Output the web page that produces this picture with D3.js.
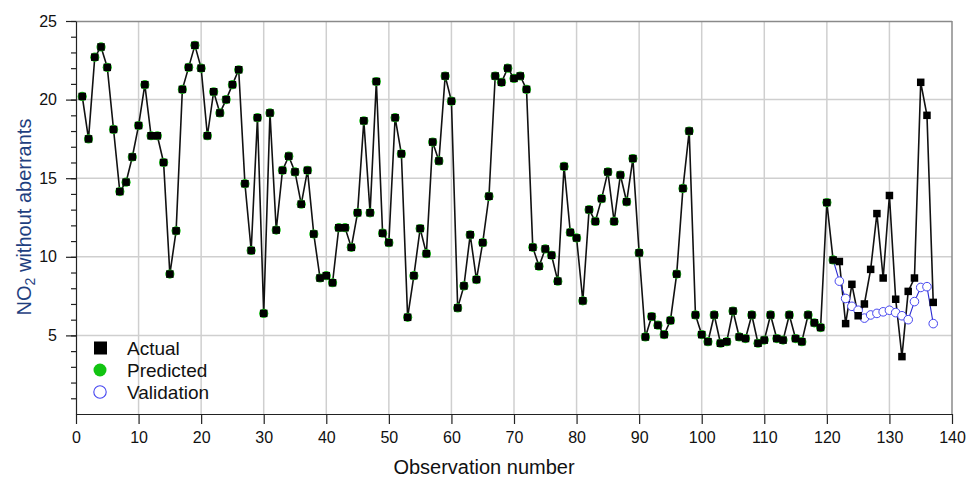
<!DOCTYPE html>
<html>
<head>
<meta charset="utf-8">
<script src="https://cdn.jsdelivr.net/npm/d3@7"></script>
<style>
  html, body { margin: 0; padding: 0; background: #fff; }
  svg { display: block; font-family: "Liberation Sans", Arial, sans-serif; }
</style>
</head>
<body>
<svg id="chart" width="977" height="481"></svg>
<script>
// ---- data ----
const actual = [
  20.2, 17.5, 22.7, 23.35, 22.05, 18.1, 14.15, 14.75, 16.35, 18.35,
  20.95, 17.7, 17.7, 16.0, 8.9, 11.65, 20.65, 22.05, 23.45, 22.0,
  17.7, 20.5, 19.15, 20.0, 20.95, 21.9, 14.65, 10.4, 18.85, 6.4,
  19.15, 11.7, 15.5, 16.4, 15.4, 13.35, 15.5, 11.45, 8.65, 8.8,
  8.35, 11.85, 11.85, 10.6, 12.8, 18.65, 12.8, 21.15, 11.5, 10.9,
  18.85, 16.55, 6.15, 8.8, 11.8, 10.2, 17.3, 16.1, 21.5, 19.9,
  6.75, 8.15, 11.4, 8.55, 10.9, 13.85, 21.5, 21.1, 22.0, 21.35,
  21.5, 20.65, 10.6, 9.4, 10.5, 10.1, 8.45, 15.75, 11.55, 11.2,
  7.2, 13.0, 12.25, 13.7, 15.4, 12.25, 15.2, 13.5, 16.25, 10.25,
  4.9, 6.2, 5.65, 5.05, 5.95, 8.9, 14.35, 18.0, 6.3, 5.05,
  4.6, 6.3, 4.5, 4.6, 6.55, 4.9, 4.8, 6.3, 4.5, 4.7,
  6.3, 4.8, 4.7, 6.3, 4.8, 4.6, 6.3, 5.8, 5.5, 13.45,
  9.8, 9.7, 5.75, 8.25, 6.25, 7.0, 9.2, 12.75, 8.65, 13.9,
  7.3, 3.65, 7.8, 8.65, 21.1, 19.0, 7.1
];
const predicted = [
  20.2, 17.5, 22.7, 23.35, 22.05, 18.1, 14.15, 14.75, 16.35, 18.35,
  20.95, 17.7, 17.7, 16.0, 8.9, 11.65, 20.65, 22.05, 23.45, 22.0,
  17.7, 20.5, 19.15, 20.0, 20.95, 21.9, 14.65, 10.4, 18.85, 6.4,
  19.15, 11.7, 15.5, 16.4, 15.4, 13.35, 15.5, 11.45, 8.65, 8.8,
  8.35, 11.85, 11.85, 10.6, 12.8, 18.65, 12.8, 21.15, 11.5, 10.9,
  18.85, 16.55, 6.15, 8.8, 11.8, 10.2, 17.3, 16.1, 21.5, 19.9,
  6.75, 8.15, 11.4, 8.55, 10.9, 13.85, 21.5, 21.1, 22.0, 21.35,
  21.5, 20.65, 10.6, 9.4, 10.5, 10.1, 8.45, 15.75, 11.55, 11.2,
  7.2, 13.0, 12.25, 13.7, 15.4, 12.25, 15.2, 13.5, 16.25, 10.25,
  4.9, 6.2, 5.65, 5.05, 5.95, 8.9, 14.35, 18.0, 6.3, 5.05,
  4.6, 6.3, 4.5, 4.6, 6.55, 4.9, 4.8, 6.3, 4.5, 4.7,
  6.3, 4.8, 4.7, 6.3, 4.8, 4.6, 6.3, 5.8, 5.5, 13.45,
  9.8
];
const validationStart = 121;
const validation = [
  9.8, 8.45, 7.35, 6.85, 6.6, 6.1, 6.3, 6.4, 6.5, 6.6,
  6.45, 6.25, 6.0, 7.15, 8.05, 8.1, 5.75
];
const xTicks = [0, 10, 20, 30, 40, 50, 60, 70, 80, 90, 100, 110, 120, 130, 140];
const yTicks = [5, 10, 15, 20, 25];
const yMinorTicks = d3.range(1, 26);
const legendItems = ["Actual", "Predicted", "Validation"];

// ---- layout ----
const svg = d3.select("#chart");
const L = 76, R = 952, T = 21, B = 414;
const x = d3.scaleLinear().domain([0, 140]).range([L, R]);
const y = d3.scaleLinear().domain([0, 25]).range([B, T]);

// gridlines
const grid = svg.append("g");
grid.selectAll("line.v").data(xTicks.filter(d => d > 0 && d < 140)).join("line")
  .attr("x1", d => x(d)).attr("x2", d => x(d)).attr("y1", T).attr("y2", B)
  .attr("stroke", "#cfcfcf").attr("stroke-width", 1.5);
grid.selectAll("line.h").data(yTicks.filter(d => d < 25)).join("line")
  .attr("x1", L).attr("x2", R).attr("y1", d => y(d)).attr("y2", d => y(d))
  .attr("stroke", "#cfcfcf").attr("stroke-width", 1.5);

// frame (top and right)
svg.append("line").attr("x1", L).attr("x2", R).attr("y1", T + 0.5).attr("y2", T + 0.5)
  .attr("stroke", "#8a8a8a").attr("stroke-width", 1.5);
svg.append("line").attr("x1", R).attr("x2", R).attr("y1", T).attr("y2", B)
  .attr("stroke", "#8a8a8a").attr("stroke-width", 1.5);

// axes
const xAxis = d3.axisBottom(x).tickValues(xTicks).tickSize(10).tickPadding(8).tickSizeOuter(0);
const gx = svg.append("g").attr("transform", `translate(0,${B})`).call(xAxis);
gx.select(".domain").attr("stroke", "#222").attr("stroke-width", 1.2);
gx.selectAll(".tick line").attr("stroke", "#222").attr("stroke-width", 1.2);
gx.selectAll(".tick text").attr("font-size", 16).attr("fill", "#111")
  .attr("font-family", "Liberation Sans, Arial, sans-serif");

const yMinor = d3.axisLeft(y).tickValues(yMinorTicks).tickSize(5).tickFormat("").tickSizeOuter(0);
const gym = svg.append("g").attr("transform", `translate(${L},0)`).call(yMinor);
gym.select(".domain").attr("stroke", "#222").attr("stroke-width", 1.2);
gym.selectAll(".tick line").attr("stroke", "#222").attr("stroke-width", 1.2);

const yAxis = d3.axisLeft(y).tickValues(yTicks).tickSize(10).tickPadding(9).tickSizeOuter(0);
const gy = svg.append("g").attr("transform", `translate(${L},0)`).call(yAxis);
gy.select(".domain").remove();
gy.selectAll(".tick line").attr("stroke", "#222").attr("stroke-width", 1.2);
gy.selectAll(".tick text").attr("font-size", 16).attr("fill", "#111")
  .attr("font-family", "Liberation Sans, Arial, sans-serif");

// axis titles
svg.append("text").attr("x", (L + R) / 2 - 30).attr("y", 474)
  .attr("text-anchor", "middle").attr("font-size", 20).attr("fill", "#111")
  .text("Observation number");

const yt = svg.append("text")
  .attr("transform", `translate(31,217) rotate(-90)`)
  .attr("text-anchor", "middle").attr("font-size", 20).attr("fill", "#1f3f7f");
yt.append("tspan").text("NO");
yt.append("tspan").attr("font-size", 14).attr("dy", 4).text("2");
yt.append("tspan").attr("dy", -4).text(" without aberrants");

// series
const actualPts = actual.map((v, i) => ({ i: i + 1, v }));
const predPts = predicted.map((v, i) => ({ i: i + 1, v }));
const valPts = validation.map((v, i) => ({ i: validationStart + i, v }));

const line = d3.line().x(d => x(d.i)).y(d => y(d.v));

svg.append("path").datum(actualPts).attr("d", line)
  .attr("fill", "none").attr("stroke", "#111").attr("stroke-width", 1.6);

svg.append("path").datum(valPts).attr("d", line)
  .attr("fill", "none").attr("stroke", "#2a2ad0").attr("stroke-width", 1.1);
svg.selectAll("circle.val").data(valPts.slice(1)).join("circle")
  .attr("class", "val")
  .attr("cx", d => x(d.i)).attr("cy", d => y(d.v)).attr("r", 4.3)
  .attr("fill", "#fff").attr("stroke", "#4646f0").attr("stroke-width", 1);

svg.selectAll("circle.pred").data(predPts).join("circle")
  .attr("class", "pred")
  .attr("cx", d => x(d.i)).attr("cy", d => y(d.v)).attr("r", 4.6)
  .attr("fill", "#19c419");

const sq = 7.5;
svg.selectAll("rect.act").data(actualPts).join("rect")
  .attr("class", "act")
  .attr("x", d => x(d.i) - sq / 2).attr("y", d => y(d.v) - sq / 2)
  .attr("width", sq).attr("height", sq).attr("fill", "#000");

// legend
const lg = svg.append("g");
const rowY = [348, 370, 392];
lg.append("rect").attr("x", 94).attr("y", rowY[0] - 6.5).attr("width", 13).attr("height", 13).attr("fill", "#000");
lg.append("circle").attr("cx", 100).attr("cy", rowY[1]).attr("r", 6.5).attr("fill", "#12c412");
lg.append("circle").attr("cx", 100).attr("cy", rowY[2]).attr("r", 6.2).attr("fill", "#fff")
  .attr("stroke", "#4646f0").attr("stroke-width", 1.1);
lg.selectAll("text").data(legendItems).join("text")
  .attr("x", 127).attr("y", (d, i) => rowY[i] + 7)
  .attr("font-size", 19).attr("fill", "#111").text(d => d);
</script>
</body>
</html>
